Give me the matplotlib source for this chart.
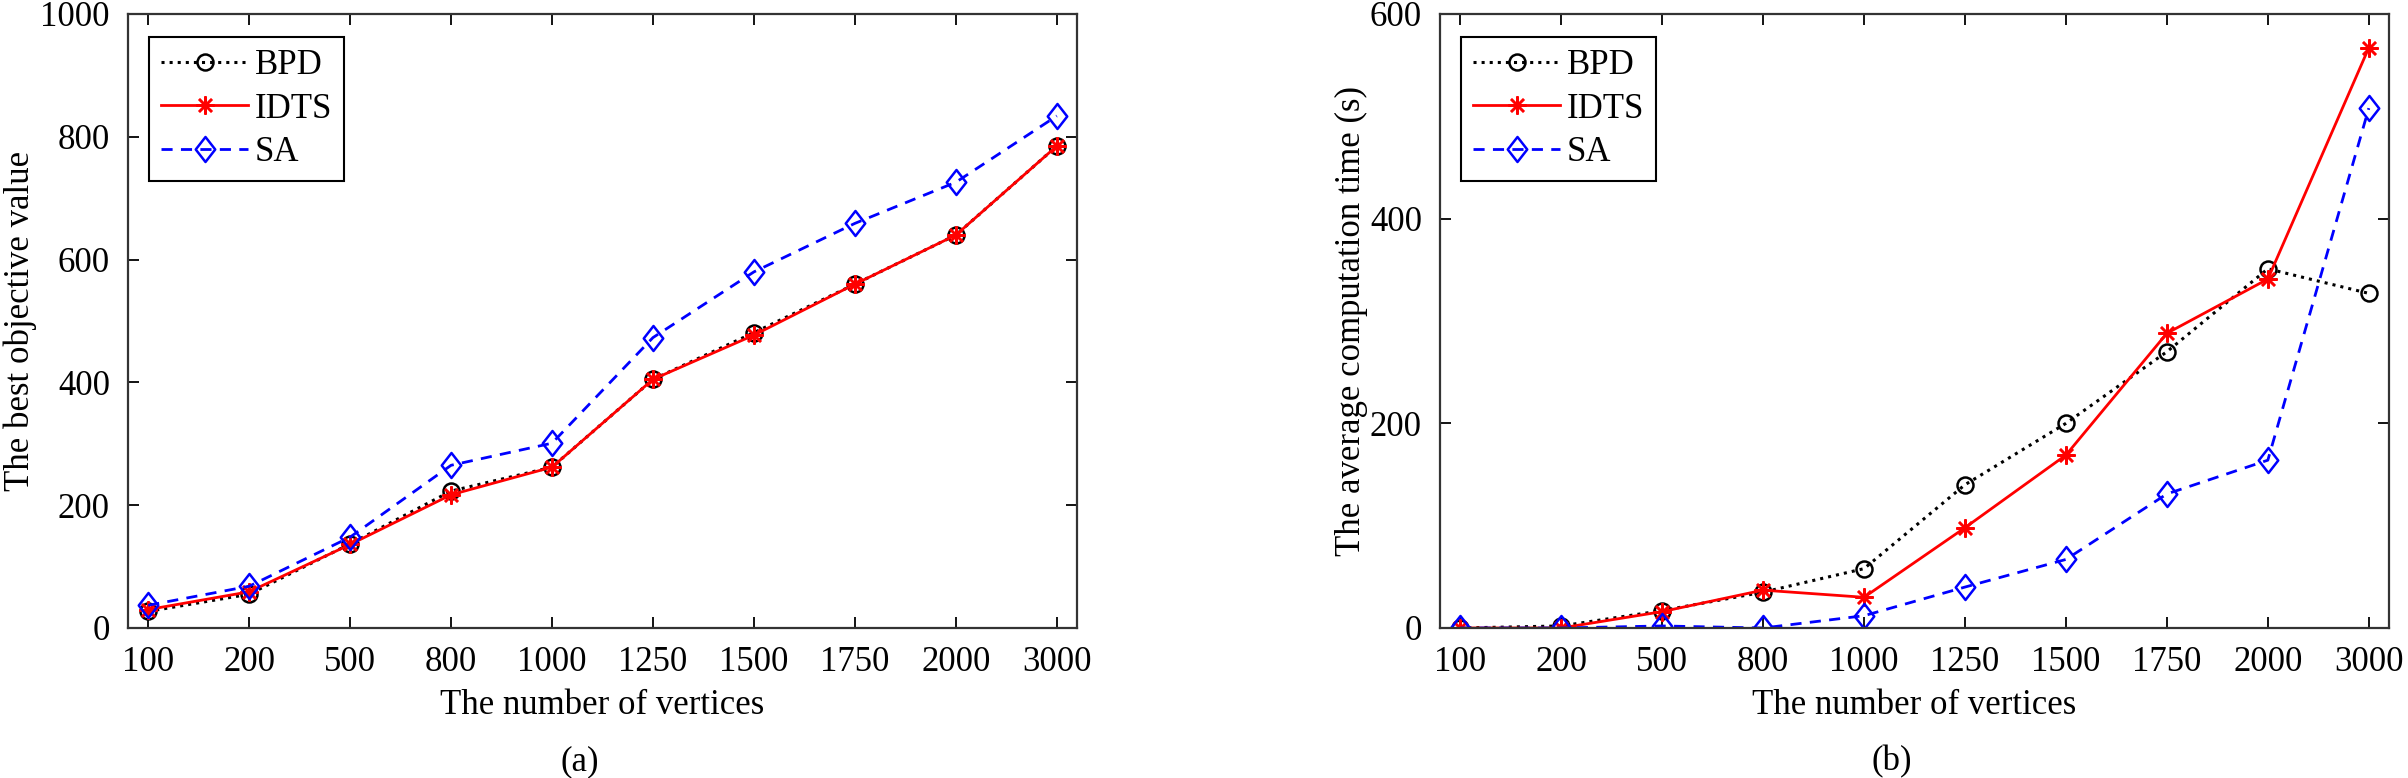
import matplotlib
matplotlib.use("Agg")
import matplotlib.pyplot as plt
from matplotlib.path import Path
import numpy as np

plt.rcParams['font.family'] = ['Liberation Serif', 'DejaVu Serif']

# ---- data ----
vertices = ["100", "200", "500", "800", "1000", "1250", "1500", "1750", "2000", "3000"]

obj_bpd = [27, 55, 137, 223, 262, 405, 481, 560, 640, 785]
obj_idts = [30, 59, 136, 217, 262, 405, 477, 560, 640, 785]
obj_sa = [37, 68, 148, 265, 301, 473, 580, 659, 726, 834]

time_bpd = [0, 2, 17, 35, 58, 140, 200, 270, 351, 327]
time_idts = [0, 0, 16, 37, 30, 98, 169, 288, 341, 567]
time_sa = [0, 0, 2, 0, 12, 40, 67, 131, 164, 508]

series_names = ["BPD", "IDTS", "SA"]

W, H = 2408, 778
fig = plt.figure(figsize=(W / 100, H / 100), dpi=100)

def px_axes(l, r, t, b):
    return [l / W, 1 - b / H, (r - l) / W, (b - t) / H]

ax1 = fig.add_axes(px_axes(128, 1077, 14, 628))
ax2 = fig.add_axes(px_axes(1440, 2389, 14, 628))

x = np.arange(1, len(vertices) + 1)
FS = 25
ast = (8, 2, 0)
diamond = Path([(0, 1), (0.78, 0), (0, -1), (-0.78, 0), (0, 1)],
               [Path.MOVETO, Path.LINETO, Path.LINETO, Path.LINETO, Path.CLOSEPOLY])

def draw(ax, bpd, idts, sa, ylim, yticks, ylabel, ylab_x):
    ax.plot(x, bpd, color='black', linestyle=':', linewidth=2.2, marker='o',
            markersize=11.5, markerfacecolor='none', markeredgewidth=1.8, label=series_names[0])
    ax.plot(x, idts, color='red', linestyle='-', linewidth=2.0, marker=ast,
            markersize=13, markeredgewidth=1.8, label=series_names[1])
    ax.plot(x, sa, color='blue', linestyle=(0, (4, 3)), linewidth=2.0, marker=diamond,
            markersize=18, markerfacecolor='none', markeredgewidth=1.8, label=series_names[2])
    ax.set_xlim(0.8, 10.2)
    ax.set_ylim(*ylim)
    ax.set_xticks(x)
    ax.set_xticklabels(vertices)
    ax.set_yticks(yticks)
    ax.tick_params(direction='in', length=8, width=1.3, top=True, right=True,
                   labelsize=FS, pad=13)
    for s in ax.spines.values():
        s.set_linewidth(1.6)
        s.set_color('#333333')
    ax.set_xlabel("The number of vertices", fontsize=FS)
    ax.xaxis.set_label_coords(0.5, (628 - 705) / 614)
    ax.xaxis.label.set_va('center')
    ax.set_ylabel(ylabel, fontsize=FS)
    ax.yaxis.set_label_coords(ylab_x, 0.5)
    ax.yaxis.label.set_va('center')
    leg = ax.legend(loc='upper left', bbox_to_anchor=(21 / 949, 1 - 23 / 614),
                    borderaxespad=0, fontsize=FS, handlelength=2.5,
                    handletextpad=0.2, labelspacing=0.3, borderpad=0.35,
                    fancybox=False, framealpha=1, edgecolor='black')
    leg.get_frame().set_linewidth(1.5)

draw(ax1, obj_bpd, obj_idts, obj_sa, (0, 1000), [0, 200, 400, 600, 800, 1000],
     "The best objective value", (20 - 128) / 949)
draw(ax2, time_bpd, time_idts, time_sa, (0, 600), [0, 200, 400, 600],
     "The average computation time (s)", (1351 - 1440) / 949)

fig.text(580 / W, 1 - 762 / H, "(a)", ha='center', va='center', fontsize=FS)
fig.text((580 + 1312) / W, 1 - 762 / H, "(b)", ha='center', va='center', fontsize=FS)

fig.savefig("out.png", dpi=100)
